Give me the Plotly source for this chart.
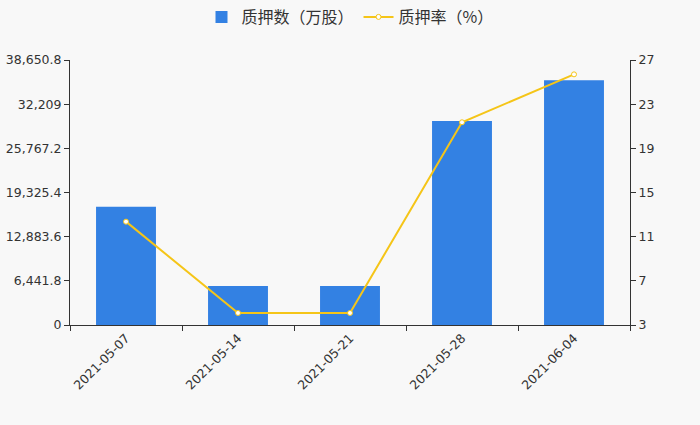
import plotly.graph_objects as go

dates = ["2021-05-07", "2021-05-14", "2021-05-21", "2021-05-28", "2021-06-04"]
pledge_shares = [17254, 5688, 5688, 29754, 35689]
pledge_rate = [12.36, 4.09, 4.09, 21.36, 25.7]
left_ticks = [0, 6441.8, 12883.6, 19325.4, 25767.2, 32209, 38650.8]
left_labels = ["0", "6,441.8", "12,883.6", "19,325.4", "25,767.2", "32,209", "38,650.8"]
right_ticks = [3, 7, 11, 15, 19, 23, 27]

fig = go.Figure()
fig.add_trace(go.Bar(
    x=dates, y=pledge_shares, name="质押数（万股）",
    marker=dict(color="#3381e3", line=dict(width=0)), width=0.535,
))
fig.add_trace(go.Scatter(
    x=dates, y=pledge_rate, name="质押率（%）", yaxis="y2", mode="lines+markers",
    line=dict(color="#f5c518", width=2),
    marker=dict(size=5, color="white", line=dict(color="#f5c518", width=1)),
))

axis_font = dict(family="DejaVu Sans", size=12.5, color="#333333")
fig.update_layout(
    width=700, height=425,
    margin=dict(l=70, r=70, t=60, b=100),
    paper_bgcolor="#f8f8f8", plot_bgcolor="#f8f8f8",
    showlegend=True,
    legend=dict(orientation="h", x=0.5, xanchor="center", y=1.0, yanchor="top",
                yref="container", font=dict(family="Noto Sans CJK SC", size=16, color="#333333"),
                bgcolor="rgba(0,0,0,0)"),
    xaxis=dict(type="category", tickangle=-45, tickson="boundaries", ticks="outside",
               ticklen=5, tickcolor="#333333", showline=True, linecolor="#333333",
               showgrid=False, tickfont=axis_font, automargin=False),
    yaxis=dict(range=[0, 38650.8], tickvals=left_ticks, ticktext=left_labels,
               ticks="outside", ticklen=5, tickcolor="#333333", showline=True,
               linecolor="#333333", showgrid=False, zeroline=False, tickfont=axis_font,
               automargin=False),
    yaxis2=dict(range=[3, 27], tickvals=right_ticks, overlaying="y", side="right",
                ticks="outside", ticklen=5, tickcolor="#333333", showline=True,
                linecolor="#333333", showgrid=False, zeroline=False, tickfont=axis_font,
                automargin=False),
    bargap=0.465,
)
fig.write_html("out.html", config={"displayModeBar": False},
               post_script="document.body.style.margin='0';document.body.style.overflow='hidden';")
